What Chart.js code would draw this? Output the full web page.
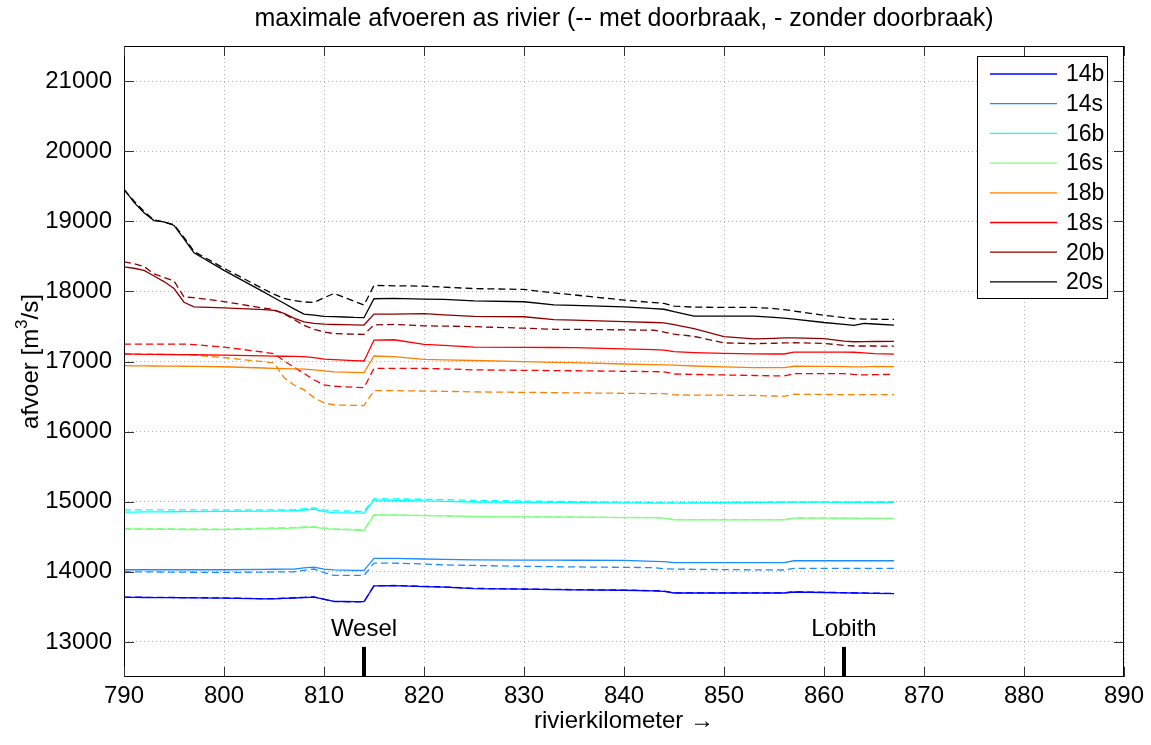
<!DOCTYPE html>
<html>
<head>
<meta charset="utf-8">
<script src="https://cdn.jsdelivr.net/npm/chart.js@4.4.1/dist/chart.umd.min.js"></script>
<style>
  html, body { margin: 0; padding: 0; background: #fff; }
  canvas { display: block; }
</style>
</head>
<body>
<canvas id="chart" width="1151" height="745"></canvas>
<script>
// rivierkilometers where the discharges were read
const km = [790, 791, 792, 793, 794, 795, 796, 797, 800, 804, 805, 806, 807, 808, 809, 810, 811, 812, 813, 814,
            815, 817, 820, 822, 825, 830, 833, 835, 840, 843, 844, 845, 847, 850, 853, 855, 856, 857, 860, 862,
            863, 864, 865, 867];

// zonder doorbraak (solid)
const q14b = [13636, 13635, 13634, 13633, 13632, 13631, 13630, 13629, 13625, 13614, 13614, 13621, 13627, 13633, 13640, 13610, 13579, 13577, 13575, 13574,
              13800, 13802, 13790, 13783, 13761, 13752, 13747, 13744, 13737, 13727, 13722, 13698, 13698, 13698, 13698, 13698, 13698, 13712, 13705, 13700,
              13698, 13696, 13693, 13688];
const q14s = [14030, 14030, 14030, 14030, 14030, 14030, 14030, 14030, 14030, 14036, 14037, 14039, 14040, 14055, 14068, 14038, 14028, 14025, 14022, 14020,
              14191, 14191, 14183, 14177, 14170, 14167, 14166, 14165, 14163, 14150, 14146, 14130, 14130, 14130, 14130, 14130, 14131, 14158, 14158, 14158,
              14158, 14158, 14158, 14158];
const q16b = [14852, 14853, 14854, 14855, 14856, 14857, 14858, 14858, 14861, 14866, 14867, 14869, 14870, 14882, 14894, 14858, 14845, 14842, 14840, 14838,
              15027, 15020, 15012, 15006, 14996, 14992, 14990, 14988, 14984, 14981, 14980, 14980, 14982, 14985, 14989, 14992, 14994, 14994, 14993, 14992,
              14992, 14991, 14991, 14990];
const q16s = [14610, 14609, 14608, 14607, 14606, 14605, 14604, 14603, 14601, 14614, 14618, 14621, 14624, 14632, 14638, 14616, 14606, 14601, 14595, 14590,
              14812, 14810, 14803, 14797, 14787, 14783, 14782, 14780, 14774, 14772, 14765, 14742, 14742, 14742, 14742, 14742, 14742, 14766, 14765, 14764,
              14763, 14763, 14762, 14761];
const q18b = [16940, 16939, 16937, 16936, 16935, 16933, 16932, 16931, 16925, 16907, 16903, 16898, 16894, 16890, 16880, 16866, 16853, 16849, 16845, 16841,
              17078, 17070, 17030, 17022, 17014, 16997, 16988, 16983, 16964, 16954, 16951, 16947, 16936, 16923, 16914, 16912, 16912, 16932, 16930, 16928,
              16922, 16924, 16930, 16927];
const q18s = [17107, 17105, 17103, 17102, 17100, 17099, 17097, 17096, 17090, 17080, 17078, 17075, 17072, 17069, 17055, 17035, 17027, 17020, 17013, 17007,
              17306, 17310, 17245, 17230, 17205, 17201, 17200, 17198, 17180, 17168, 17162, 17140, 17128, 17115, 17108, 17107, 17107, 17135, 17135, 17135,
              17132, 17122, 17112, 17104];
const q20b = [18350, 18330, 18300, 18220, 18140, 18040, 17845, 17780, 17765, 17740, 17730, 17685, 17620, 17565, 17545, 17532, 17528, 17525, 17522, 17520,
              17677, 17677, 17683, 17665, 17643, 17638, 17598, 17590, 17570, 17556, 17552, 17525, 17470, 17355, 17322, 17330, 17337, 17338, 17325, 17292,
              17282, 17284, 17285, 17287];
const q20s = [19460, 19270, 19120, 19010, 18990, 18940, 18750, 18550, 18300, 17990, 17910, 17830, 17750, 17675, 17660, 17645, 17640, 17635, 17628, 17625,
              17895, 17900, 17890, 17885, 17866, 17852, 17808, 17800, 17780, 17755, 17745, 17710, 17648, 17648, 17648, 17630, 17618, 17605, 17556, 17530,
              17516, 17544, 17535, 17520];

// met doorbraak (dashed)
const q14bMet = [13639, 13638, 13637, 13636, 13635, 13634, 13633, 13632, 13628, 13617, 13617, 13624, 13630, 13636, 13643, 13608, 13576, 13574, 13572, 13571,
                 13803, 13805, 13793, 13786, 13764, 13755, 13750, 13747, 13740, 13730, 13725, 13701, 13701, 13701, 13701, 13701, 13701, 13715, 13708, 13703,
                 13701, 13699, 13696, 13691];
const q14sMet = [14001, 14000, 13999, 13998, 13997, 13996, 13995, 13994, 13991, 13997, 13998, 13999, 14001, 14022, 14040, 13990, 13949, 13949, 13949, 13950,
                 14125, 14125, 14111, 14100, 14091, 14079, 14073, 14070, 14064, 14060, 14045, 14038, 14036, 14032, 14029, 14027, 14026, 14049, 14049, 14049,
                 14049, 14049, 14049, 14049];
const q16bMet = [14885, 14885, 14885, 14885, 14885, 14885, 14885, 14885, 14885, 14885, 14885, 14885, 14885, 14899, 14913, 14884, 14872, 14868, 14864, 14861,
                 15041, 15041, 15035, 15029, 15019, 15010, 15005, 15002, 14995, 14991, 14990, 14990, 14991, 14992, 14993, 14994, 14994, 14995, 14997, 14998,
                 14998, 14999, 14999, 15000];
const q16sMet = [14619, 14618, 14617, 14616, 14615, 14614, 14613, 14612, 14610, 14623, 14627, 14630, 14633, 14641, 14647, 14625, 14615, 14610, 14604, 14600,
                 14814, 14812, 14805, 14799, 14789, 14785, 14784, 14782, 14776, 14774, 14767, 14744, 14744, 14744, 14744, 14744, 14744, 14768, 14767, 14766,
                 14765, 14765, 14764, 14763];
const q18bMet = [17110, 17108, 17106, 17104, 17102, 17100, 17098, 17092, 17055, 16995, 16980, 16770, 16665, 16595, 16485, 16410, 16380, 16377, 16374, 16371,
                 16584, 16584, 16578, 16574, 16566, 16560, 16556, 16553, 16546, 16542, 16541, 16523, 16521, 16519, 16516, 16508, 16504, 16533, 16530, 16528,
                 16527, 16527, 16527, 16527];
const q18sMet = [17249, 17249, 17249, 17249, 17249, 17249, 17249, 17241, 17205, 17133, 17110, 17010, 16920, 16830, 16740, 16665, 16647, 16640, 16633, 16627,
                 16903, 16903, 16902, 16895, 16881, 16874, 16870, 16868, 16860, 16856, 16852, 16822, 16815, 16808, 16800, 16796, 16793, 16826, 16826, 16826,
                 16815, 16808, 16812, 16818];
const q20bMet = [18420, 18395, 18355, 18250, 18200, 18150, 17920, 17910, 17855, 17760, 17740, 17680, 17600, 17515, 17460, 17420, 17398, 17393, 17390, 17387,
                 17520, 17530, 17508, 17505, 17497, 17475, 17460, 17458, 17452, 17446, 17420, 17390, 17358, 17265, 17255, 17260, 17265, 17268, 17258, 17230,
                 17221, 17221, 17221, 17220];
const q20sMet = [19450, 19290, 19140, 19020, 18990, 18950, 18770, 18570, 18330, 18030, 17960, 17900, 17870, 17850, 17843, 17910, 17970, 17915, 17860, 17805,
                 18085, 18080, 18075, 18060, 18040, 18028, 17978, 17950, 17876, 17840, 17829, 17790, 17775, 17772, 17772, 17755, 17740, 17720, 17660, 17625,
                 17610, 17605, 17603, 17600];

const names = ['14b', '14s', '16b', '16s', '18b', '18s', '20b', '20s'];
const colors = ['#0000ff', '#1a8cff', '#00ffff', '#80ff80', '#ff8000', '#ff0000', '#8c0000', '#000000'];
const zonder = [q14b, q14s, q16b, q16s, q18b, q18s, q20b, q20s];
const met = [q14bMet, q14sMet, q16bMet, q16sMet, q18bMet, q18sMet, q20bMet, q20sMet];

const xTicks = [790, 800, 810, 820, 830, 840, 850, 860, 870, 880, 890];
const yTicks = [13000, 14000, 15000, 16000, 17000, 18000, 19000, 20000, 21000];

// plaatsen langs de rivier
const placeNames = ['Wesel', 'Lobith'];
const placeKm = [814, 862];
const placeBar = [12500, 12930];
const placeLabelY = 13175;

const FONT = "'Liberation Sans', Arial, Helvetica, sans-serif";
Chart.defaults.font.family = FONT;
Chart.defaults.color = '#000';

const pts = vals => km.map((k, i) => ({ x: k, y: vals[i] }));

const datasets = [];
names.forEach((n, i) => {
    datasets.push({
        label: n,
        data: pts(zonder[i]),
        borderColor: colors[i],
        borderWidth: 1.3,
        pointRadius: 0,
        tension: 0,
        fill: false
    });
});
names.forEach((n, i) => {
    datasets.push({
        label: n + ' met doorbraak',
        data: pts(met[i]),
        borderColor: colors[i],
        borderWidth: 1.3,
        borderDash: [7, 4],
        pointRadius: 0,
        tension: 0,
        fill: false
    });
});
placeKm.forEach((k, i) => {
    datasets.push({
        label: placeNames[i],
        data: placeBar.map(v => ({ x: k, y: v })),
        borderColor: '#000',
        borderWidth: 4,
        pointRadius: 0
    });
});

// box, inward ticks, y label with superscript, place names and the legend
const frame = {
    id: 'frame',
    afterDatasetsDraw(chart) {
        const { ctx, chartArea: a, scales: { x, y } } = chart;
        ctx.save();
        ctx.strokeStyle = '#000';
        ctx.lineWidth = 1;
        ctx.strokeRect(a.left + 0.5, a.top + 0.5, a.width - 1, a.height - 1);

        ctx.strokeStyle = '#333';
        ctx.beginPath();
        xTicks.forEach(t => {
            const px = Math.round(x.getPixelForValue(t)) + 0.5;
            ctx.moveTo(px, a.bottom); ctx.lineTo(px, a.bottom - 10);
            ctx.moveTo(px, a.top); ctx.lineTo(px, a.top + 10);
        });
        yTicks.forEach(t => {
            const py = Math.round(y.getPixelForValue(t)) + 0.5;
            ctx.moveTo(a.left, py); ctx.lineTo(a.left + 10, py);
            ctx.moveTo(a.right, py); ctx.lineTo(a.right - 10, py);
        });
        ctx.stroke();

        // y axis label: afvoer [m^3/s]
        ctx.fillStyle = '#000';
        ctx.save();
        ctx.translate(38, (a.top + a.bottom) / 2);
        ctx.rotate(-Math.PI / 2);
        ctx.textBaseline = 'alphabetic';
        ctx.textAlign = 'left';
        const big = '24px ' + FONT, small = '17px ' + FONT;
        ctx.font = big;
        const w1 = ctx.measureText('afvoer [m').width;
        const w3 = ctx.measureText('/s]').width;
        ctx.font = small;
        const w2 = ctx.measureText('3').width;
        let sx = -(w1 + w2 + w3) / 2;
        ctx.font = big;
        ctx.fillText('afvoer [m', sx, 0);
        ctx.font = small;
        ctx.fillText('3', sx + w1, -11);
        ctx.font = big;
        ctx.fillText('/s]', sx + w1 + w2, 0);
        ctx.restore();

        ctx.font = '24px ' + FONT;
        ctx.textAlign = 'center';
        ctx.textBaseline = 'middle';
        placeNames.forEach((n, i) => {
            ctx.fillText(n, x.getPixelForValue(placeKm[i]), y.getPixelForValue(placeLabelY));
        });

        // legend
        const lw = 130, rowH = 29.7;
        const lx = a.right - 17 - lw, ly = a.top + 10;
        const lh = rowH * names.length + 4;
        ctx.fillStyle = '#fff';
        ctx.fillRect(lx, ly, lw, lh);
        ctx.strokeStyle = '#000';
        ctx.strokeRect(Math.round(lx) + 0.5, Math.round(ly) + 0.5, lw, Math.round(lh));
        ctx.font = '23px ' + FONT;
        ctx.textAlign = 'left';
        names.forEach((n, i) => {
            const cy = ly + 18 + i * rowH;
            ctx.strokeStyle = colors[i];
            ctx.lineWidth = 1.3;
            ctx.beginPath();
            ctx.moveTo(lx + 13, cy); ctx.lineTo(lx + 80, cy);
            ctx.stroke();
            ctx.fillStyle = '#000';
            ctx.fillText(n, lx + 89, cy + 1);
        });
        ctx.restore();
    }
};

new Chart(document.getElementById('chart'), {
    type: 'line',
    data: { datasets: datasets },
    options: {
        responsive: false,
        animation: false,
        layout: { padding: { left: 0, right: 27, top: 0, bottom: 0 } },
        plugins: {
            legend: { display: false },
            tooltip: { enabled: false },
            title: {
                display: true,
                fullSize: false,
                text: 'maximale afvoeren as rivier (-- met doorbraak, - zonder doorbraak)',
                font: { size: 25, weight: 'normal' },
                color: '#000',
                padding: { top: 4, bottom: 12 }
            }
        },
        scales: {
            x: {
                type: 'linear',
                min: 790,
                max: 890,
                afterBuildTicks: s => { s.ticks = xTicks.map(v => ({ value: v })); },
                afterFit: s => { s.height = 68; },
                grid: { color: '#b4b4b4', drawTicks: false, lineWidth: 1 },
                border: { display: false, dash: [1, 3] },
                ticks: { font: { size: 24 }, padding: 5, maxRotation: 0, autoSkip: false, color: '#000',
                         callback: v => String(v) },
                title: {
                    display: true,
                    text: 'rivierkilometer \u2192',
                    font: { size: 24 },
                    color: '#000',
                    padding: { top: 0, bottom: 9 }
                }
            },
            y: {
                type: 'linear',
                min: 12500,
                max: 21500,
                afterBuildTicks: s => { s.ticks = yTicks.map(v => ({ value: v })); },
                afterFit: s => { s.width = 124; },
                grid: { color: '#b4b4b4', drawTicks: false, lineWidth: 1 },
                border: { display: false, dash: [1, 3] },
                ticks: { font: { size: 24 }, padding: 12, color: '#000',
                         callback: v => String(v) },
                title: { display: false }
            }
        }
    },
    plugins: [frame]
});
</script>
</body>
</html>
